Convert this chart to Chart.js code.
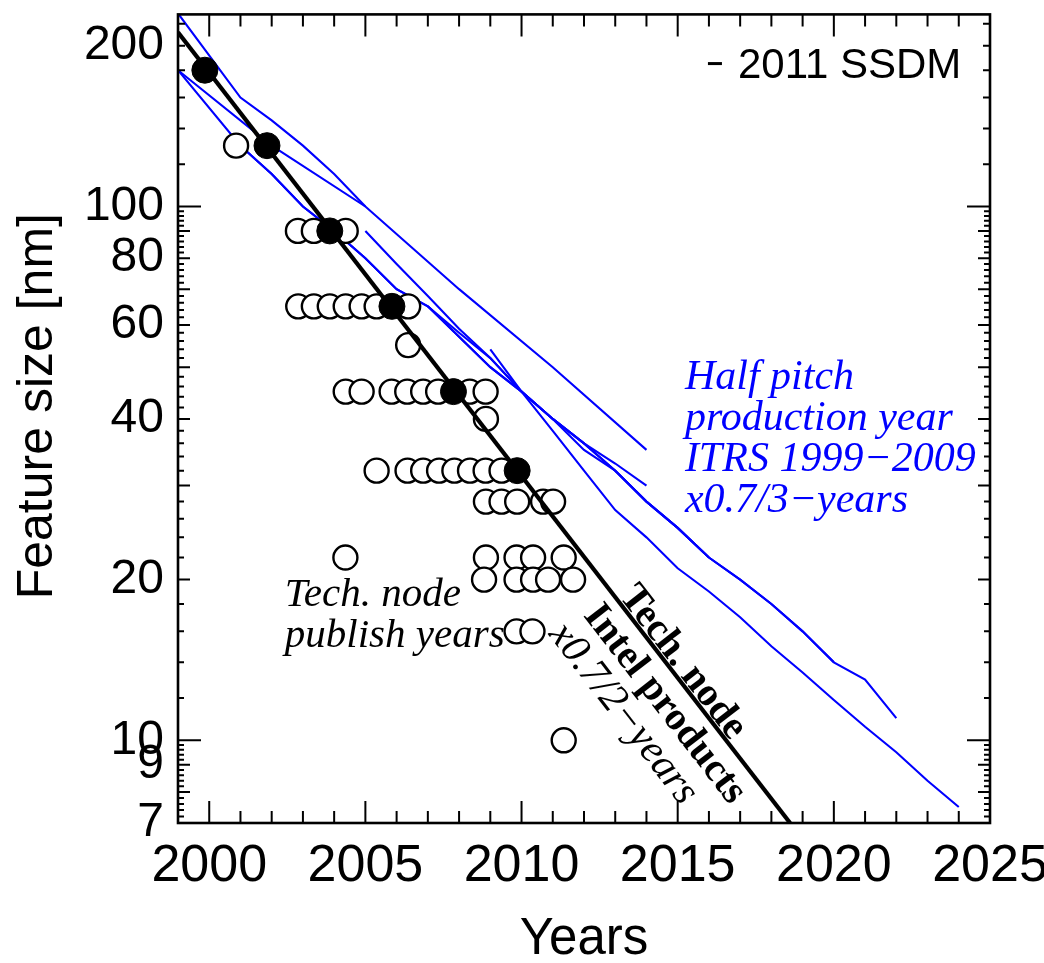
<!DOCTYPE html>
<html>
<head>
<meta charset="utf-8">
<script src="https://cdn.jsdelivr.net/npm/chart.js@4/dist/chart.umd.min.js"></script>
<style>
    html, body { margin: 0; padding: 0; background: #fff; }
    #wrap { width: 1044px; height: 963px; }
</style>
</head>
<body>
<div id="wrap"><canvas id="myChart"></canvas></div>
<script>
// axis tick labels
const x_tick_labels = [2000, 2005, 2010, 2015, 2020, 2025];
const y_tick_labels = [200, 100, 80, 60, 40, 20, 10, 9, 7];

// Intel products (filled circles)
const intel_years = [1999.86, 2001.85, 2003.86, 2005.85, 2007.82, 2009.86];
const intel_sizes = [180, 130, 90, 65, 45, 32];

// tech. node publish years (open circles)
const node_years = [
    2000.86,
    2002.84, 2003.35, 2004.37,
    2002.85, 2003.35, 2003.86, 2004.37, 2004.88, 2005.36, 2006.37,
    2006.37,
    2004.37, 2004.88, 2005.84, 2006.34, 2006.85, 2007.33, 2008.34, 2008.85,
    2008.86,
    2005.36, 2006.35, 2006.85, 2007.36, 2007.85, 2008.35, 2008.85, 2009.36,
    2008.86, 2009.36, 2009.86, 2010.69, 2011.01,
    2004.36, 2008.86, 2009.84, 2010.37, 2011.35,
    2008.80, 2009.84, 2010.37, 2010.85, 2011.65,
    2009.84, 2010.35,
    2011.35
];
const node_sizes = [
    130,
    90, 90, 90,
    65, 65, 65, 65, 65, 65, 65,
    55,
    45, 45, 45, 45, 45, 45, 45, 45,
    40,
    32, 32, 32, 32, 32, 32, 32, 32,
    28, 28, 28, 28, 28,
    22, 22, 22, 22, 22,
    20, 20, 20, 20, 20,
    16, 16,
    10
];

// x0.7/2-years trend line
const trend_years = [1999, 2018.6];
const trend_sizes = [212, 7];

// ITRS half pitch, production year
const itrs_1999_years = [1999, 2002, 2005, 2008, 2011, 2014];
const itrs_1999_sizes = [180, 130, 100, 70, 50, 35];
const itrs_1999b_years = [1999, 2001, 2002, 2003, 2004, 2005];
const itrs_1999b_sizes = [230, 160, 145, 130, 115, 100];
const itrs_2000_years = [1999, 2001, 2002, 2003, 2004, 2005, 2006, 2007, 2008, 2009, 2010, 2011, 2012, 2013, 2014];
const itrs_2000_sizes = [180, 130, 115, 100, 90, 80, 70, 65, 58, 52, 45, 40, 36, 33, 30];
const itrs_2001_years = [2001, 2002, 2003, 2004, 2005, 2006, 2007, 2008, 2009, 2010, 2011, 2012, 2013, 2014, 2015, 2016];
const itrs_2001_sizes = [130, 115, 100, 90, 80, 70, 65, 57, 50, 45, 40, 35, 32, 28, 25, 22];
const itrs_2005_years = [2005, 2006, 2007, 2008, 2009, 2010, 2011, 2012, 2013, 2014, 2015, 2016, 2017, 2018, 2019, 2020];
const itrs_2005_sizes = [90, 78, 68, 59, 52, 45, 40, 36, 32, 28, 25, 22, 20, 18, 16, 14];
const itrs_2007_years = [2007, 2008, 2009, 2010, 2011, 2012, 2013, 2014, 2015, 2016, 2017, 2018, 2019, 2020, 2021, 2022];
const itrs_2007_sizes = [65, 57, 50, 45, 40, 36, 32, 28, 25, 22, 20, 18, 16, 14, 13, 11];
const itrs_2009_years = [2009, 2010, 2011, 2012, 2013, 2014, 2015, 2016, 2017, 2018, 2019, 2020, 2021, 2022, 2023, 2024];
const itrs_2009_sizes = [54, 45, 38, 32, 27, 24, 21, 19, 17, 15, 13.4, 11.9, 10.6, 9.5, 8.4, 7.5];

const itrs_label = ['Half pitch', 'production year', 'ITRS 1999\u22122009', 'x0.7/3\u2212years'];
const node_label = ['Tech. node', 'publish years'];
const trend_label = ['Tech. node', 'Intel products', 'x0.7/2\u2212years'];
const source_label = '2011 SSDM';

function to_points(xs, ys) {
    return xs.map((v, i) => ({x: v, y: ys[i]}));
}

function itrs_dataset(xs, ys) {
    return {
        type: 'line',
        data: to_points(xs, ys),
        borderColor: '#0000ff',
        borderWidth: 2.1,
        pointRadius: 0,
        tension: 0,
        order: 4
    };
}

function no_padding(scale) {
    scale.paddingTop = 0;
    scale.paddingBottom = 0;
    scale.paddingLeft = 0;
    scale.paddingRight = 0;
}

// inward ticks on all four sides + frame
const frame_plugin = {
    id: 'frame_plugin',
    afterDraw(chart) {
        const ctx = chart.ctx;
        const a = chart.chartArea;
        const xs = chart.scales.x;
        const ys = chart.scales.y;
        ctx.save();
        ctx.strokeStyle = '#000';
        ctx.lineWidth = 2;
        ctx.beginPath();
        for (let yr = 1999; yr <= 2025; yr++) {
            const px = xs.getPixelForValue(yr);
            const len = yr % 5 === 0 ? 22 : 12;
            ctx.moveTo(px, a.bottom); ctx.lineTo(px, a.bottom - len);
            ctx.moveTo(px, a.top); ctx.lineTo(px, a.top + len);
        }
        let y_minor = [];
        for (let v = 7; v < 10; v += 0.2) y_minor.push([v, Math.abs(v - Math.round(v)) < 0.01 ? 12 : 6]);
        for (let v = 10; v < 100; v += 2) y_minor.push([v, v === 10 ? 23 : (v % 10 === 0 ? 12 : 6)]);
        for (let v = 100; v <= 220; v += 20) y_minor.push([v, v === 100 ? 23 : 7]);
        y_minor.forEach(([v, len]) => {
            const py = ys.getPixelForValue(v);
            ctx.moveTo(a.left, py); ctx.lineTo(a.left + len, py);
            ctx.moveTo(a.right, py); ctx.lineTo(a.right - len, py);
        });
        ctx.stroke();
        ctx.lineWidth = 2.6;
        ctx.strokeRect(a.left, a.top, a.right - a.left, a.bottom - a.top);
        ctx.restore();
    }
};

const text_plugin = {
    id: 'text_plugin',
    afterDraw(chart) {
        const ctx = chart.ctx;
        const xs = chart.scales.x;
        const ys = chart.scales.y;
        ctx.save();
        ctx.textBaseline = 'alphabetic';

        ctx.fillStyle = '#0000ff';
        ctx.font = 'italic 42px "Liberation Serif"';
        ctx.textAlign = 'left';
        let left = xs.getPixelForValue(2015.23);
        let base = ys.getPixelForValue(45.6);
        itrs_label.forEach((t, i) => ctx.fillText(t, left, base + i * 41));

        ctx.fillStyle = '#000';
        ctx.font = 'italic 41px "Liberation Serif"';
        left = xs.getPixelForValue(2002.42);
        base = ys.getPixelForValue(17.86);
        node_label.forEach((t, i) => ctx.fillText(t, left, base + i * 41));

        // source note with its short dash
        ctx.font = '42px "Liberation Sans"';
        ctx.textAlign = 'right';
        const sx = xs.getPixelForValue(2024.08);
        const sy = ys.getPixelForValue(174);
        ctx.fillText(source_label, sx, sy);
        const tw = ctx.measureText(source_label).width;
        ctx.fillRect(sx - tw - 30, sy - 16, 14, 3);

        // labels along the trend line
        const x0 = xs.getPixelForValue(trend_years[0]), y0 = ys.getPixelForValue(trend_sizes[0]);
        const x1 = xs.getPixelForValue(trend_years[1]), y1 = ys.getPixelForValue(trend_sizes[1]);
        const ang = Math.atan2(y1 - y0, x1 - x0);
        const feet = [2014.82, 2015.25, 2014.9];
        const offs = [-3, 37, 76];
        const fonts = ['bold 40px "Liberation Serif"', 'bold 40px "Liberation Serif"', 'italic 41px "Liberation Serif"'];
        ctx.textAlign = 'center';
        trend_label.forEach((t, i) => {
            const px = xs.getPixelForValue(feet[i]);
            const py = y0 + (px - x0) * (y1 - y0) / (x1 - x0);
            ctx.save();
            ctx.translate(px, py);
            ctx.rotate(ang);
            ctx.font = fonts[i];
            ctx.fillText(t, 0, offs[i]);
            ctx.restore();
        });
        ctx.restore();
    }
};

const ctx = document.getElementById('myChart').getContext('2d');
const myChart = new Chart(ctx, {
    type: 'scatter',
    data: {
        datasets: [
            {
                data: to_points(intel_years, intel_sizes),
                backgroundColor: '#000',
                borderColor: '#000',
                borderWidth: 1,
                pointRadius: 13,
                order: 0
            },
            {
                type: 'line',
                data: to_points(trend_years, trend_sizes),
                borderColor: '#000',
                borderWidth: 4.2,
                pointRadius: 0,
                order: 1
            },
            {
                data: to_points(node_years, node_sizes),
                backgroundColor: '#fff',
                borderColor: '#000',
                borderWidth: 2.4,
                pointRadius: 12,
                order: 2
            },
            itrs_dataset(itrs_1999_years, itrs_1999_sizes),
            itrs_dataset(itrs_1999b_years, itrs_1999b_sizes),
            itrs_dataset(itrs_2000_years, itrs_2000_sizes),
            itrs_dataset(itrs_2001_years, itrs_2001_sizes),
            itrs_dataset(itrs_2005_years, itrs_2005_sizes),
            itrs_dataset(itrs_2007_years, itrs_2007_sizes),
            itrs_dataset(itrs_2009_years, itrs_2009_sizes)
        ]
    },
    options: {
        responsive: true,
        maintainAspectRatio: false,
        animation: false,
        events: [],
        layout: {
            padding: {top: 10, right: 54, left: 0, bottom: 0}
        },
        plugins: {
            legend: {display: false},
            tooltip: {enabled: false}
        },
        scales: {
            x: {
                type: 'linear',
                min: 1999,
                max: 2025,
                grid: {display: false, drawTicks: false},
                border: {display: false},
                afterBuildTicks: (scale) => {
                    scale.ticks = x_tick_labels.map(v => ({value: v}));
                },
                afterFit: (scale) => {
                    scale.height = 140;
                    no_padding(scale);
                },
                ticks: {
                    autoSkip: false,
                    maxRotation: 0,
                    padding: 12,
                    color: '#000',
                    font: {family: 'Liberation Sans', size: 52},
                    callback: (v) => String(v)
                },
                title: {
                    display: true,
                    text: 'Years',
                    color: '#000',
                    padding: {top: 0, bottom: -8},
                    font: {family: 'Liberation Sans', size: 51}
                }
            },
            y: {
                type: 'logarithmic',
                min: 7,
                max: 229,
                grid: {display: false, drawTicks: false},
                border: {display: false},
                afterBuildTicks: (scale) => {
                    scale.ticks = y_tick_labels.map(v => ({value: v}));
                },
                afterFit: (scale) => {
                    scale.width = 178;
                    no_padding(scale);
                },
                ticks: {
                    autoSkip: false,
                    padding: 14,
                    color: '#000',
                    font: {family: 'Liberation Sans', size: 48},
                    callback: (v) => String(v)
                },
                title: {
                    display: true,
                    text: '\u2002Feature size [nm]',
                    color: '#000',
                    padding: {top: 8, bottom: 0},
                    font: {family: 'Liberation Sans', size: 50}
                }
            }
        }
    },
    plugins: [frame_plugin, text_plugin]
});
</script>
</body>
</html>
